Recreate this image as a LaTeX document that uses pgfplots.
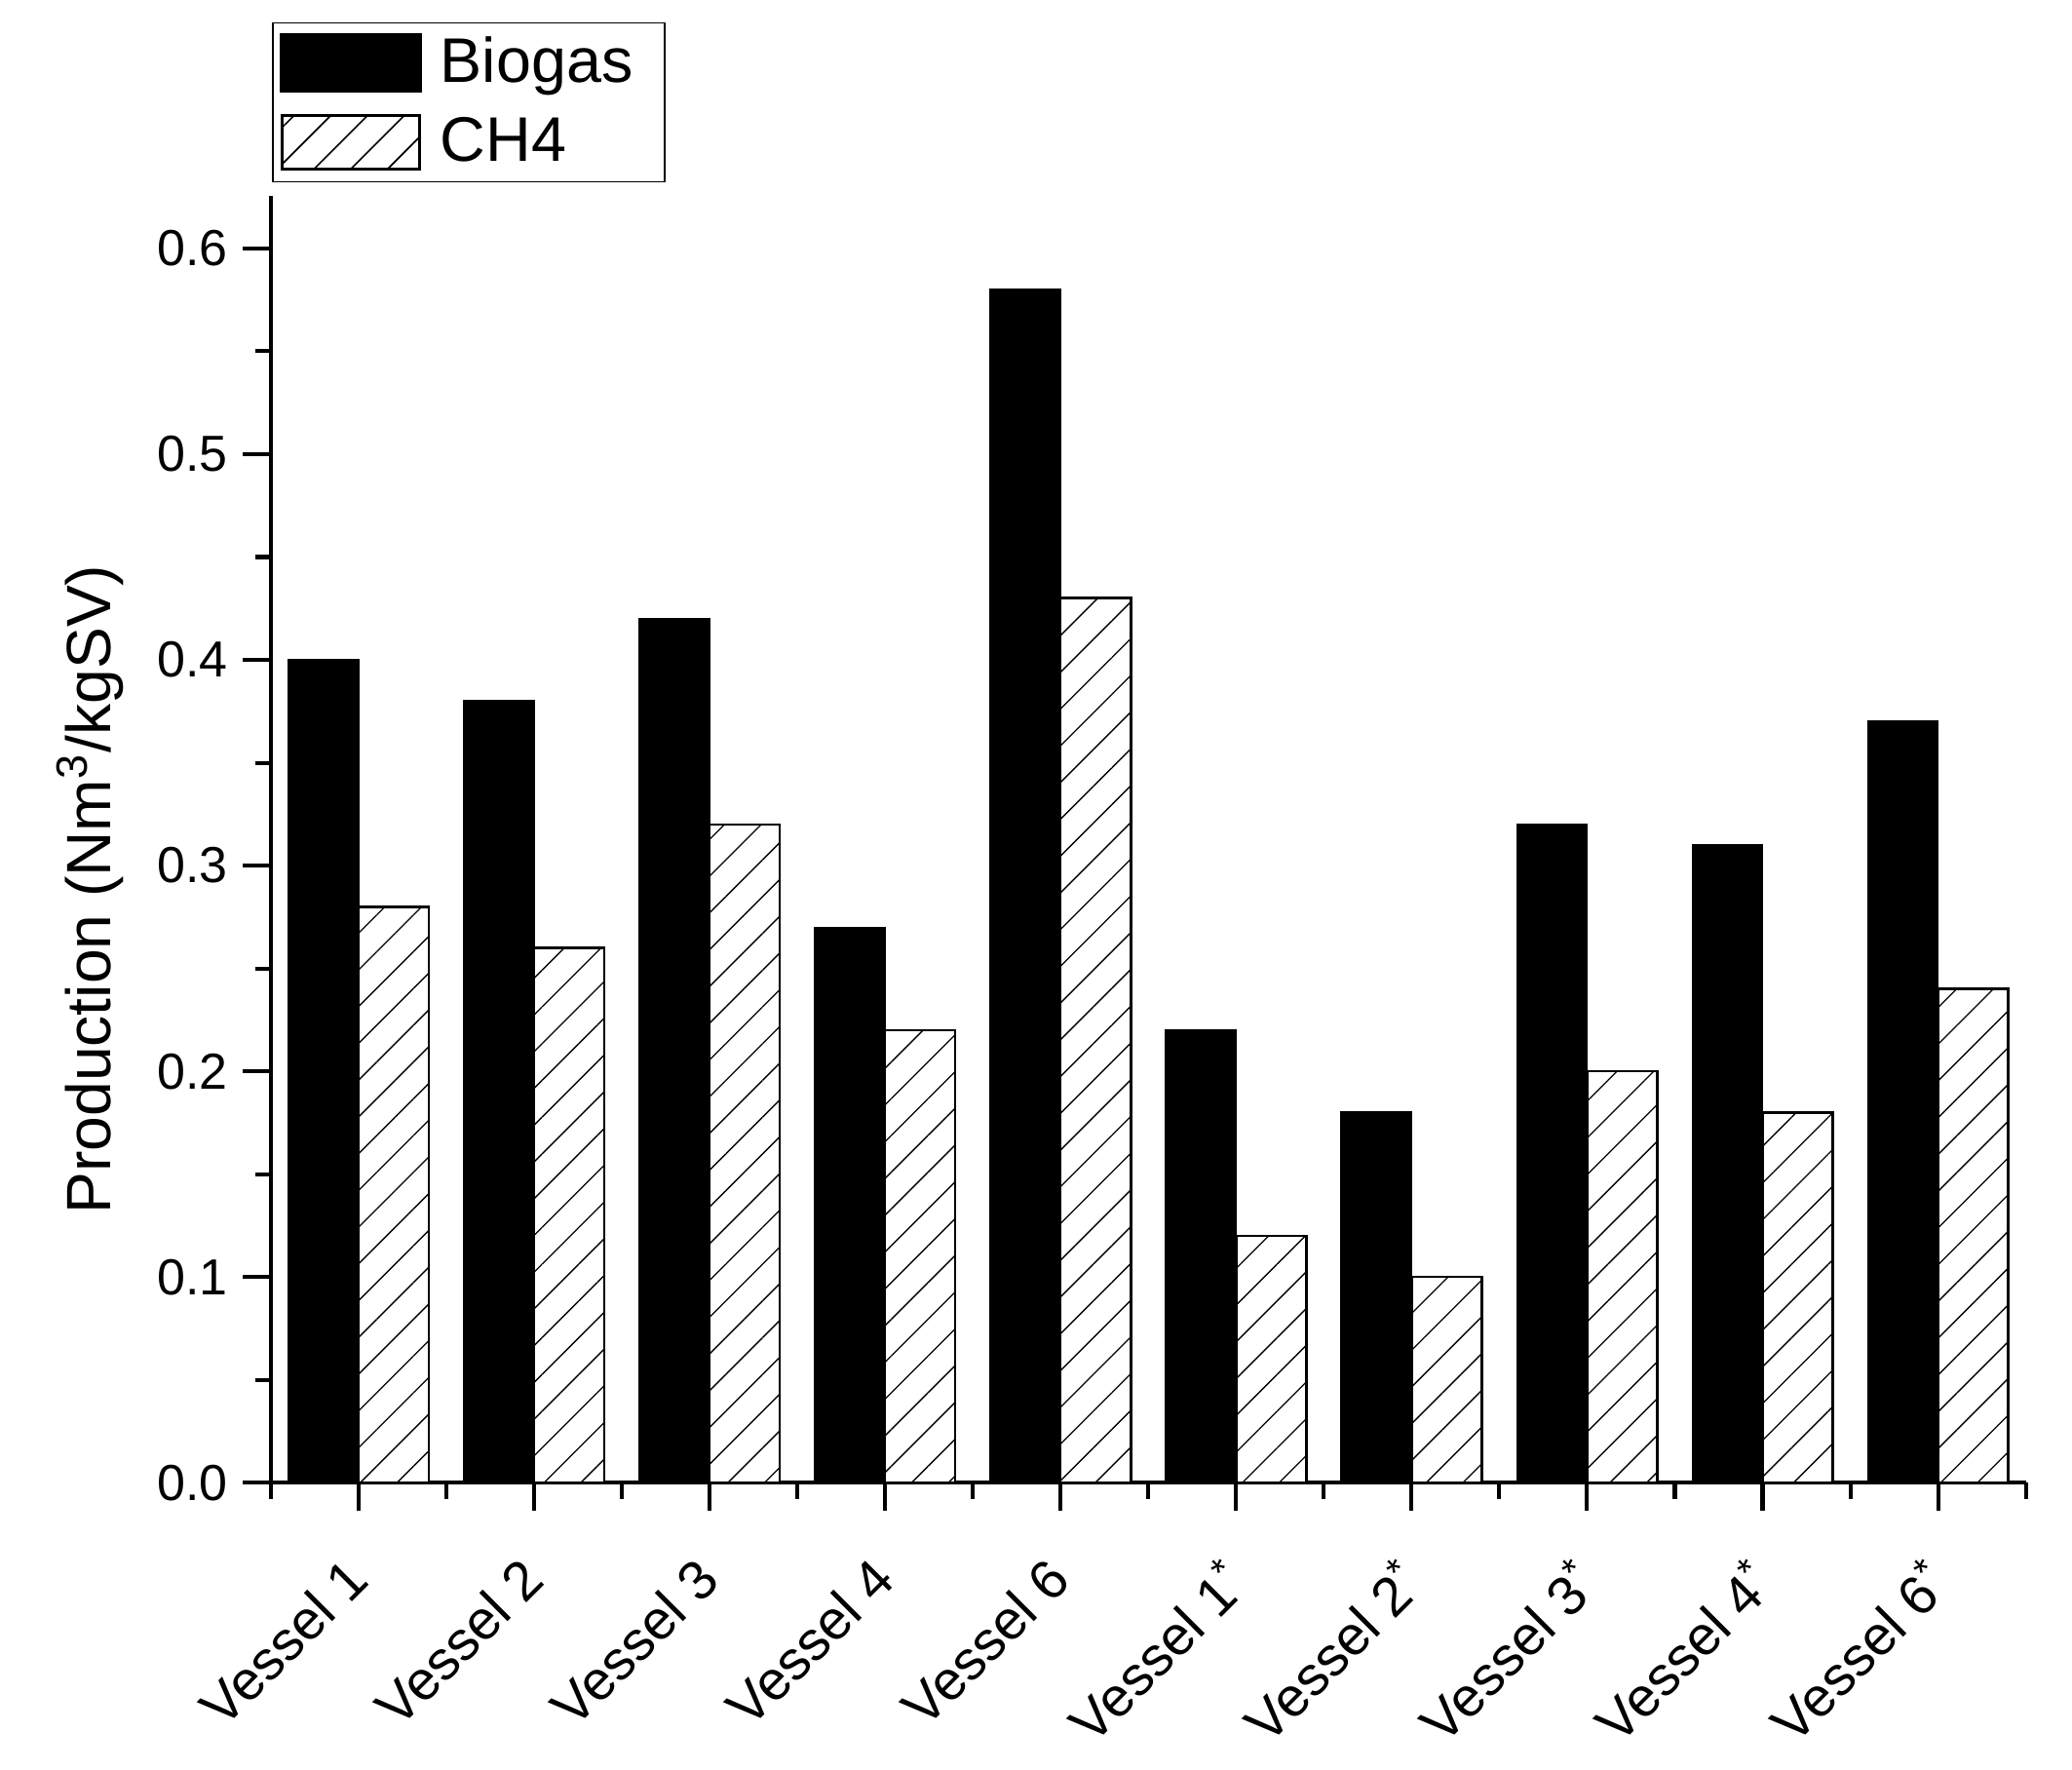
\documentclass[border=0pt]{standalone}
\usepackage{pgfplots}
\pgfplotsset{compat=1.18}
\usepackage{fontspec}
\setmainfont{Liberation Sans}
\usetikzlibrary{patterns.meta}
\begin{document}
\begin{tikzpicture}
\path[use as bounding box] (-61.5pt,-65.1pt) rectangle (408.9pt,336.6pt);
\begin{axis}[
  at={(0,0)}, anchor=south west,
  scale only axis,
  width=398.4pt, height=292.2pt,
  xmin=-0.5, xmax=9.5,
  ymin=0, ymax=0.6257,
  axis lines*=left,
  axis line style={line width=0.9pt},
  every tick/.style={line width=0.9pt, black},
  tick align=outside,
  major tick length=6.3pt,
  minor tick length=3.6pt,
  xtick={0,...,9},
  minor xtick={-0.5,0.5,...,9.5},
  xticklabels={Vessel 1,Vessel 2,Vessel 3,Vessel 4,Vessel 6,Vessel 1\textsuperscript{*},Vessel 2\textsuperscript{*},Vessel 3\textsuperscript{*},Vessel 4\textsuperscript{*},Vessel 6\textsuperscript{*}},
  xticklabel style={xshift=-3.6pt, yshift=-5pt, rotate=45, anchor=north east, font=\fontsize{12.5}{14}\selectfont},
  ytick={0,0.1,...,0.61},
  minor ytick={0.05,0.15,...,0.6},
  yticklabel style={/pgf/number format/fixed, /pgf/number format/precision=1, /pgf/number format/fixed zerofill, font=\fontsize{11.5}{13}\selectfont},
  /pgf/number format/assume math mode=true,
  ylabel={Production (Nm\textsuperscript{3}/kgSV)},
  ylabel style={at={(rel axis cs:-0.103,0.461)}, anchor=center, font=\fontsize{14.2}{16}\selectfont},
  legend style={at={(rel axis cs:0,1)}, anchor=south west, xshift=0.3pt, yshift=3pt,
    draw=black, line width=0.35pt, inner xsep=1.6pt, inner ysep=2.4pt,
    font=\fontsize{14.3}{16}\selectfont, row sep=5pt, column sep=4.2pt,
    nodes={inner xsep=0pt, inner ysep=0pt, text height=10.8pt, text depth=2.1pt}},
  legend cell align=left,
  ybar, bar width=0.4,
]
\addplot[ybar, bar shift=-0.2, fill=black, draw=black, line width=0.4pt,
  legend image code/.code={\fill[black] (0pt,-6.45pt) rectangle (31.8pt,6.45pt);}]
  coordinates {(0,0.40) (1,0.38) (2,0.42) (3,0.27) (4,0.58) (5,0.22) (6,0.18) (7,0.32) (8,0.31) (9,0.37)};
\addlegendentry{Biogas\hspace*{5.6pt}}
\addplot[ybar, bar shift=0.2, fill=white, draw=black, line width=0.55pt,
  postaction={pattern={Lines[angle=45,distance=5.9pt,line width=0.3pt]}},
  legend image code/.code={\draw[black, line width=0.7pt, fill=white, postaction={pattern={Lines[angle=45,distance=5.9pt,line width=0.3pt]}}] (0.35pt,-6.1pt) rectangle (31.45pt,6.1pt);}]
  coordinates {(0,0.28) (1,0.26) (2,0.32) (3,0.22) (4,0.43) (5,0.12) (6,0.10) (7,0.20) (8,0.18) (9,0.24)};
\addlegendentry{CH4}
\end{axis}
\end{tikzpicture}
\end{document}
